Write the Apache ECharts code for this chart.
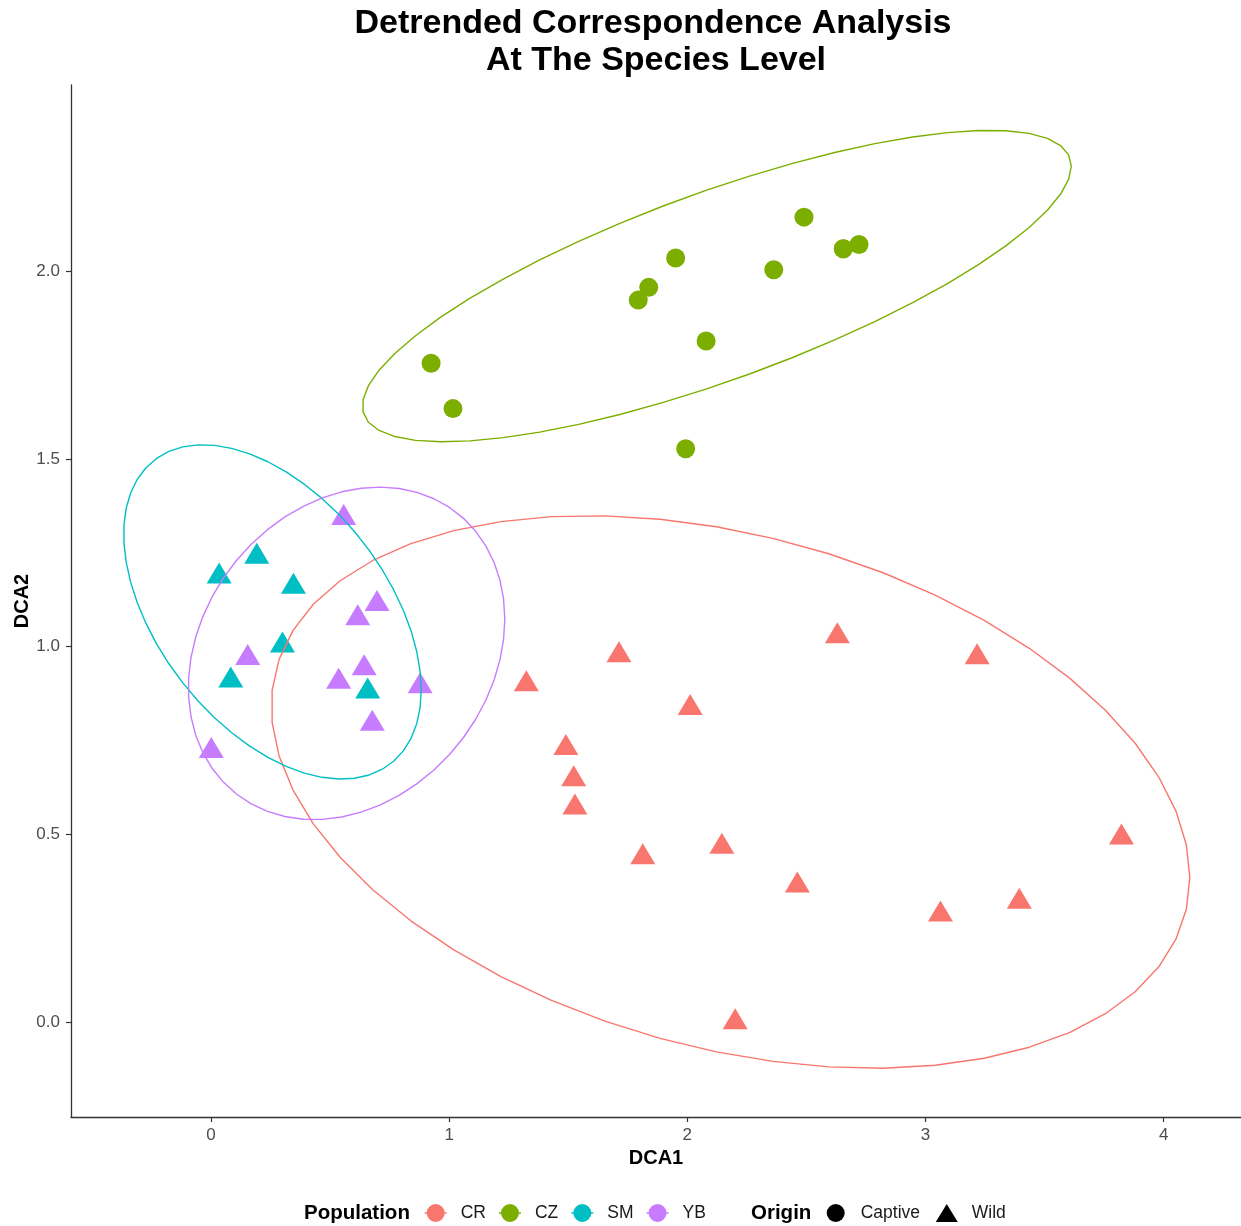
<!DOCTYPE html>
<html><head><meta charset="utf-8">
<script src="https://cdn.jsdelivr.net/npm/echarts@6/dist/echarts.min.js"></script>
<style>html,body{margin:0;padding:0;background:#fff}#chart{width:1241px;height:1226px}</style>
</head><body><div id="chart"></div>
<script>
// ---- data ----
const populations = ['CR', 'CZ', 'SM', 'YB'];
const origins = ['Captive', 'Wild'];
const popColors = ['#F8766D', '#7CAE00', '#00BFC4', '#C77CFF'];
const popOrigin = ['Wild', 'Captive', 'Wild', 'Wild'];

const crDCA1 = [2.630, 1.713, 3.217, 1.324, 2.012, 1.490, 1.523, 1.528, 3.823, 1.813, 2.145, 2.462, 3.394, 3.063, 2.201];
const crDCA2 = [1.037, 0.986, 0.981, 0.909, 0.846, 0.739, 0.656, 0.581, 0.501, 0.448, 0.476, 0.373, 0.330, 0.296, 0.009];
// the last CZ point sits under the overlapping pair near (2.66, 2.06)
const czDCA1 = [2.490, 1.951, 2.363, 2.655, 2.721, 1.838, 1.794, 2.079, 0.924, 1.016, 1.993, 2.655];
const czDCA2 = [2.144, 2.035, 2.004, 2.060, 2.071, 1.957, 1.923, 1.814, 1.755, 1.634, 1.527, 2.060];
const smDCA1 = [0.034, 0.192, 0.346, 0.300, 0.083, 0.658];
const smDCA2 = [1.196, 1.249, 1.169, 1.012, 0.919, 0.890];
const ybDCA1 = [0.557, 0.697, 0.616, 0.154, 0.643, 0.536, 0.878, 0.677, 0.001];
const ybDCA2 = [1.352, 1.123, 1.085, 0.979, 0.952, 0.916, 0.904, 0.804, 0.731];

const xTicks = [0, 1, 2, 3, 4];
const yTicks = [0, 0.5, 1, 1.5, 2];

const popX = [crDCA1, czDCA1, smDCA1, ybDCA1];
const popY = [crDCA2, czDCA2, smDCA2, ybDCA2];

// ---- stat_ellipse (type "t", robust covariance as in MASS::cov.trob) ----
function covTrob(xs, ys, nu = 5, maxit = 25, tol = 0.01) {
  const n = xs.length, p = 2;
  let loc = [xs.reduce((a, b) => a + b, 0) / n, ys.reduce((a, b) => a + b, 0) / n];
  let w = new Array(n).fill(1);
  let X = [];
  for (let iter = 0; iter < maxit; iter++) {
    const w0 = w.slice();
    X = xs.map((x, i) => [x - loc[0], ys[i] - loc[1]]);
    const sw = w.reduce((a, b) => a + b, 0);
    let s11 = 0, s12 = 0, s22 = 0;
    for (let i = 0; i < n; i++) {
      const f = w[i] / sw;
      s11 += f * X[i][0] * X[i][0]; s12 += f * X[i][0] * X[i][1]; s22 += f * X[i][1] * X[i][1];
    }
    const det = s11 * s22 - s12 * s12;
    const i11 = s22 / det, i12 = -s12 / det, i22 = s11 / det;
    w = X.map(([a, b]) => (nu + p) / (nu + (a * a * i11 + 2 * a * b * i12 + b * b * i22)));
    const sw2 = w.reduce((a, b) => a + b, 0);
    loc = [xs.reduce((s, x, i) => s + w[i] * x, 0) / sw2, ys.reduce((s, y, i) => s + w[i] * y, 0) / sw2];
    if (w.every((v, i) => Math.abs(v - w0[i]) < tol)) break;
  }
  let c11 = 0, c12 = 0, c22 = 0;
  for (let i = 0; i < n; i++) {
    c11 += w[i] * X[i][0] * X[i][0]; c12 += w[i] * X[i][0] * X[i][1]; c22 += w[i] * X[i][1] * X[i][1];
  }
  return { center: loc, cov: [c11 / n, c12 / n, c22 / n] };
}
function statEllipse(xs, ys, level = 0.95, segments = 51) {
  const { center, cov } = covTrob(xs, ys);
  const dfd = xs.length - 1;
  const fq = (dfd / 2) * (Math.pow(1 - level, -2 / dfd) - 1);
  const radius = Math.sqrt(2 * fq);
  const a = Math.sqrt(cov[0]), b = cov[1] / a, c = Math.sqrt(cov[2] - b * b);
  const out = [];
  for (let k = 0; k <= segments; k++) {
    const t = k * 2 * Math.PI / segments;
    const u = Math.cos(t), v = Math.sin(t);
    out.push([center[0] + radius * u * a, center[1] + radius * (u * b + v * c)]);
  }
  return out;
}

const FONT = '"Liberation Sans", Arial, Helvetica, sans-serif';
const axisColor = '#333333';
const tickLabelColor = '#4D4D4D';

const series = [];
populations.forEach((p, i) => {
  series.push({
    name: p, type: 'scatter',
    symbol: popOrigin[i] === 'Wild' ? 'triangle' : 'circle',
    symbolSize: popOrigin[i] === 'Wild' ? [25, 21] : 19,
    itemStyle: { color: popColors[i], opacity: 1 },
    data: popX[i].map((x, k) => [x, popY[i][k]]),
    z: 2, silent: true
  });
});
populations.forEach((p, i) => {
  series.push({
    name: p, type: 'line',
    data: statEllipse(popX[i], popY[i]),
    showSymbol: false, symbol: 'none', smooth: false,
    lineStyle: { color: popColors[i], width: 1.4 },
    itemStyle: { color: popColors[i] },
    z: 3, silent: true
  });
});
origins.forEach((o) => {
  series.push({ name: o, type: 'scatter', symbol: o === 'Wild' ? 'triangle' : 'circle',
    itemStyle: { color: '#000000', opacity: 1 }, data: [] });
});

const popIcon = 'path://M0,8.3H2.2V9.7H0Z M19.8,8.3H22V9.7H19.8Z M20,9A9,9 0 1,1 2,9A9,9 0 1,1 20,9Z';

const option = {
  animation: false,
  backgroundColor: '#ffffff',
  grid: { left: 71, top: 85, right: 0, bottom: 109, containLabel: false },
  xAxis: {
    type: 'value', min: -0.588, max: 4.325,
    axisLine: { show: true, onZero: false, lineStyle: { color: axisColor, width: 1.3 } },
    axisTick: { show: true, length: 5, customValues: xTicks, lineStyle: { color: axisColor, width: 1.2 } },
    axisLabel: { customValues: xTicks, margin: 10, color: tickLabelColor, fontSize: 17, fontFamily: FONT,
      formatter: v => String(v) },
    splitLine: { show: false }
  },
  yAxis: {
    type: 'value', min: -0.253, max: 2.496,
    axisLine: { show: true, onZero: false, lineStyle: { color: axisColor, width: 1.3 } },
    axisTick: { show: true, length: 5, customValues: yTicks, lineStyle: { color: axisColor, width: 1.2 } },
    axisLabel: { customValues: yTicks, margin: 11, color: tickLabelColor, fontSize: 17, fontFamily: FONT,
      formatter: v => v.toFixed(1) },
    splitLine: { show: false }
  },
  legend: [
    {
      data: populations.map((p, i) => ({ name: p, icon: popIcon, itemStyle: { color: popColors[i], opacity: 1 } })),
      left: 424.7, top: 1204, orient: 'horizontal', padding: 0,
      itemWidth: 22, itemHeight: 18, itemGap: 13,
      textStyle: { fontSize: 17.5, color: '#1A1A1A', fontFamily: FONT, padding: [0, 0, 0, 9] },
      selectedMode: false
    },
    {
      data: [
        { name: 'Captive', icon: 'circle', itemStyle: { color: '#000000', opacity: 1 } },
        { name: 'Wild', icon: 'triangle', itemStyle: { color: '#000000', opacity: 1 } }
      ],
      left: 826.7, top: 1204, orient: 'horizontal', padding: 0,
      itemWidth: 22, itemHeight: 18, itemGap: 15.7,
      textStyle: { fontSize: 17.5, color: '#1A1A1A', fontFamily: FONT, padding: [0, 0, 0, 9] },
      selectedMode: false
    }
  ],
  graphic: [
    { type: 'text', x: 653, y: 24, style: { text: 'Detrended Correspondence Analysis', align: 'center', verticalAlign: 'middle',
      font: 'bold 34px ' + FONT, fill: '#000' } },
    { type: 'text', x: 656, y: 61, style: { text: 'At The Species Level', align: 'center', verticalAlign: 'middle',
      font: 'bold 34px ' + FONT, fill: '#000' } },
    { type: 'text', x: 656, y: 1158, style: { text: 'DCA1', align: 'center', verticalAlign: 'middle',
      font: 'bold 20px ' + FONT, fill: '#000' } },
    { type: 'text', x: 22, y: 601, rotation: Math.PI / 2, style: { text: 'DCA2', align: 'center', verticalAlign: 'middle',
      font: 'bold 20px ' + FONT, fill: '#000' } },
    { type: 'text', x: 304, y: 1213, style: { text: 'Population', align: 'left', verticalAlign: 'middle',
      font: 'bold 20.5px ' + FONT, fill: '#000' } },
    { type: 'text', x: 751, y: 1213, style: { text: 'Origin', align: 'left', verticalAlign: 'middle',
      font: 'bold 20.5px ' + FONT, fill: '#000' } }
  ],
  series: series
};

const chart = echarts.init(document.getElementById('chart'), null, { renderer: 'canvas' });
chart.setOption(option);
</script>
</body></html>
